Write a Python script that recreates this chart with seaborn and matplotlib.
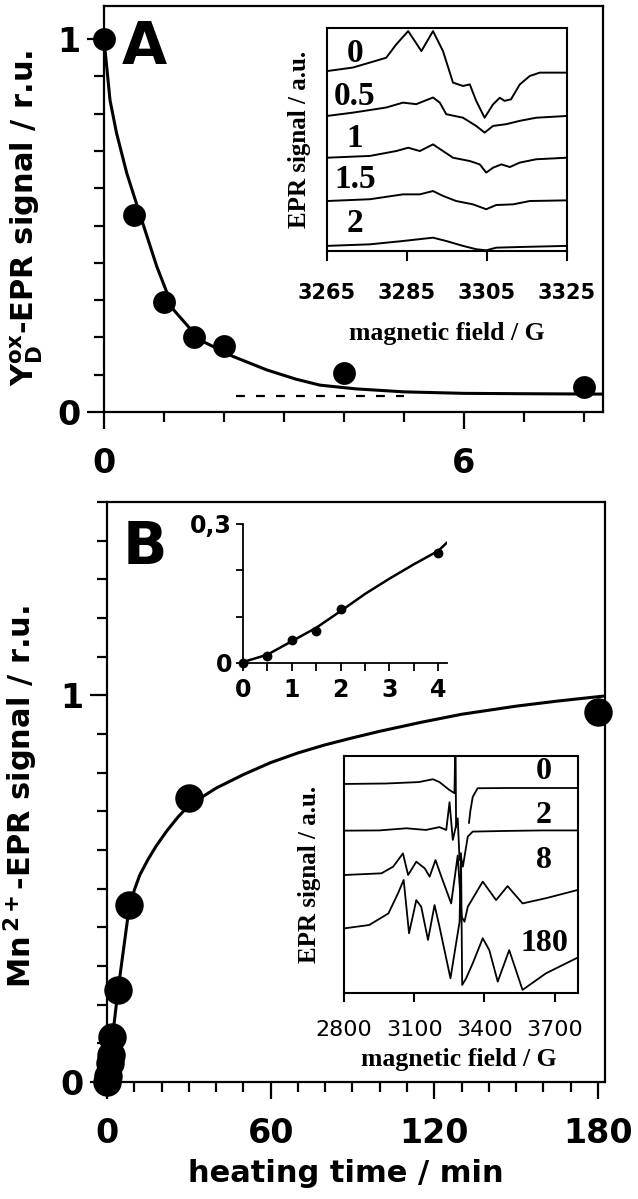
import matplotlib
matplotlib.use("Agg")
import matplotlib.pyplot as plt
import seaborn as sns
from matplotlib.ticker import MultipleLocator, FixedLocator, NullLocator

# ---- panel A : Y_D ox signal vs heating time ----
a_time = [0, 0.5, 1, 1.5, 2, 4, 8]
a_signal = [1.0, 0.528, 0.295, 0.201, 0.177, 0.105, 0.067]
a_fit_time = [0, 0.1, 0.21, 0.38, 0.6, 0.88, 1.16, 1.6, 2.15, 2.71, 3.2, 3.6, 4.2, 5, 6, 7, 8.32]
a_fit_signal = [1.0, 0.836, 0.747, 0.64, 0.529, 0.39, 0.274, 0.193, 0.149, 0.113, 0.088, 0.072, 0.062,
                0.054, 0.05, 0.049, 0.048]
a_base_time = [2.2, 5.0]
a_base_signal = [0.043, 0.043]

# inset A : EPR spectra (field in G, signal in a.u. incl. offset)
ia_labels = ["0", "0.5", "1", "1.5", "2"]
ia_label_pos = [89, 69.5, 50.7, 32, 12.5]
ia_field_0 = [3265, 3271.5, 3279.8, 3282.3, 3285.3, 3288.6, 3291.5, 3294, 3296.5, 3299, 3300.7, 3302.3,
              3304.4, 3306.5, 3308.2, 3309.4, 3311, 3313.2, 3315.7, 3318.2, 3325]
ia_sig_0 = [81, 82.6, 87, 93, 99, 90, 99, 90, 75.8, 74.3, 75, 67.6, 60, 66, 69, 67.6, 68.3, 75, 78.8, 80.3, 80.3]
ia_field_05 = [3265, 3271.5, 3279.8, 3284, 3287.3, 3291.5, 3293.2, 3294.8, 3299, 3302.3, 3304.4, 3306.5,
               3309.8, 3313.2, 3317.3, 3325]
ia_sig_05 = [60.8, 62.3, 64.6, 66.8, 66.1, 69.1, 66.8, 61.6, 60.0, 56.3, 53.3, 56.3, 57.1, 58.6, 60.0, 60.8]
ia_field_1 = [3265, 3275.7, 3282.3, 3285.3, 3288.2, 3291.5, 3294, 3296.5, 3300.7, 3303.2, 3304.8, 3306.5,
              3308.6, 3310.7, 3313.2, 3317.3, 3325]
ia_sig_1 = [42.0, 42.8, 45.0, 46.5, 45.0, 48.0, 45.0, 42.0, 40.5, 39.0, 35.3, 37.5, 39.0, 37.8, 39.8, 41.3, 42.0]
ia_field_15 = [3265, 3275.7, 3284, 3288.2, 3291.5, 3294, 3297.3, 3301.5, 3304.8, 3307.3, 3311.5, 3315.7, 3325]
ia_sig_15 = [22.5, 23.3, 25.5, 25.5, 27.0, 24.8, 22.5, 21.0, 18.8, 20.7, 21.0, 22.5, 22.8]
ia_field_2 = [3265, 3275.7, 3284, 3291.5, 3294.8, 3299, 3302.3, 3304.8, 3307.3, 3313.2, 3325]
ia_sig_2 = [2.3, 3.0, 4.5, 6.0, 4.5, 2.3, 0.8, 0.3, 1.5, 1.8, 2.3]

# ---- panel B : Mn2+ signal vs heating time ----
b_time = [0, 0.5, 1, 1.5, 2, 4, 8, 30, 180]
b_signal = [0, 0.016, 0.05, 0.07, 0.117, 0.238, 0.457, 0.734, 0.956]
b_fit_time = [0, 1, 2, 4, 8, 10, 12, 15, 18, 22, 26, 30, 40, 50, 60, 70, 80, 90, 100, 115, 130, 150,
              165, 182]
b_fit_signal = [0, 0.05, 0.115, 0.235, 0.445, 0.496, 0.535, 0.575, 0.61, 0.65, 0.685, 0.715, 0.76,
                0.795, 0.826, 0.851, 0.872, 0.89, 0.907, 0.93, 0.951, 0.972, 0.985, 0.998]

# inset B1 : first 4 min
ib_time = [0, 0.5, 1, 1.5, 2, 4]
ib_signal = [0, 0.016, 0.05, 0.07, 0.117, 0.238]
ib_fit_time = [0, 0.5, 1, 1.5, 2, 2.5, 3, 3.5, 4, 4.18]
ib_fit_signal = [0.002, 0.018, 0.047, 0.076, 0.112, 0.149, 0.182, 0.213, 0.242, 0.26]

# inset B2 : Mn EPR spectra
ic_labels = ["0", "2", "8", "180"]
ic_label_pos = [93.4, 75.1, 56.1, 21]
ic_field_0a = [2800, 2980, 3120, 3180, 3208, 3250, 3272, 3275, 3277, 3279]
ic_sig_0a = [88.2, 88.4, 89.0, 90.2, 89.0, 85.7, 84.3, 101, 101, 70]
ic_field_0b = [3334, 3340, 3350, 3371, 3500, 3650, 3800]
ic_sig_0b = [71.7, 76.8, 82.7, 86.4, 86.5, 86.5, 86.5]
ic_field_2 = [2800, 2950, 3067, 3150, 3208, 3237, 3251, 3265, 3286, 3294, 3300, 3308, 3329, 3350, 3500, 3650, 3800]
ic_sig_2 = [68.5, 68.6, 69.5, 68.8, 70.0, 68.8, 80.5, 64.6, 73.7, 56.1, 57.4, 53.3, 66.0, 68.1, 68.4, 68.6, 68.6]
ic_field_8 = [2804, 2960, 3010, 3052, 3074, 3109, 3145, 3166, 3191, 3216, 3258, 3286, 3303, 3315, 3329,
              3393, 3450, 3499, 3563, 3663, 3800]
ic_sig_8 = [49.8, 50.5, 53.3, 58.9, 49.8, 55.4, 52.6, 49.1, 56.1, 49.1, 37.8, 58.0, 32.0, 30.1, 36.4,
            47.0, 39.2, 45.1, 37.8, 40.0, 43.5]
ic_field_180 = [2804, 2908, 2990, 3031, 3055, 3078, 3109, 3130, 3159, 3187, 3208, 3255, 3294, 3300, 3305,
                3322, 3350, 3393, 3421, 3457, 3506, 3563, 3663, 3800]
ic_sig_180 = [27.3, 28.7, 33.6, 42.1, 47.7, 25.2, 39.2, 36.4, 22.4, 37.1, 28.0, 6.2, 30.1, 59.0, 3.4,
              6.2, 12.5, 23.1, 18.1, 4.8, 18.1, 1.3, 8.3, 15.0]

sns.set_style("ticks", {"axes.edgecolor": "black", "xtick.color": "black", "ytick.color": "black",
                        "text.color": "black", "axes.labelcolor": "black"})
plt.rcParams["font.family"] = ["DejaVu Sans"]
plt.rcParams["font.weight"] = "bold"
plt.rcParams["axes.labelweight"] = "bold"
plt.rcParams["mathtext.fontset"] = "dejavusans"
plt.rcParams["mathtext.default"] = "bf"

SERIF = ["Liberation Serif", "DejaVu Serif"]
LW = 1.6

fig = plt.figure(figsize=(6.38, 11.99), dpi=100)


def box(ax, lw=LW):
    for s in ax.spines.values():
        s.set_visible(True)
        s.set_linewidth(lw)


def curve(x, y, ax, lw=2.0, **kw):
    sns.lineplot(x=x, y=y, ax=ax, color="black", lw=lw, estimator=None, sort=False, legend=False, **kw)


def dots(x, y, ax, s):
    sns.scatterplot(x=x, y=y, ax=ax, s=s, color="black", edgecolor="black", linewidth=0,
                    clip_on=False, zorder=4, legend=False)


# ================= panel A =================
axA = fig.add_axes([0.16301, 0.65638, 0.78213, 0.33862])
curve(a_fit_time, a_fit_signal, axA, lw=2.2)
curve(a_base_time, a_base_signal, axA, lw=1.6, linestyle=(0, (4, 5)))
dots(a_time, a_signal, axA, 270)
axA.set_xlim(0, 8.317)
axA.set_ylim(0, 1.0885)
axA.xaxis.set_major_locator(FixedLocator([0, 6]))
axA.xaxis.set_minor_locator(MultipleLocator(1))
axA.yaxis.set_major_locator(FixedLocator([0, 1]))
axA.yaxis.set_minor_locator(MultipleLocator(0.1))
box(axA)
axA.tick_params(which="major", direction="out", length=12, width=LW, labelsize=24)
axA.tick_params(axis="x", which="major", pad=13)
axA.tick_params(axis="y", which="major", pad=5)
axA.tick_params(which="minor", direction="out", length=7.5, width=LW)
axA.set_xlabel("")
axA.set_ylabel(r"Y$_{\mathbf{D}}^{\mathbf{ox}}$-EPR signal / r.u.", fontsize=22)
axA.yaxis.set_label_coords(-0.118, 0.478)
axA.text(0.035, 0.968, "A", transform=axA.transAxes, fontsize=42, fontweight="bold", va="top", ha="left")

# inset A
iaA = fig.add_axes([0.51254, 0.79066, 0.37618, 0.18599])
iaA.set_facecolor("white")
for fx, sy in [(ia_field_0, ia_sig_0), (ia_field_05, ia_sig_05), (ia_field_1, ia_sig_1),
               (ia_field_15, ia_sig_15), (ia_field_2, ia_sig_2)]:
    curve(fx, sy, iaA, lw=1.4)
for lab, yp in zip(ia_labels, ia_label_pos):
    iaA.text(3272, yp, lab, family=SERIF, fontsize=24, fontweight="bold", ha="center", va="center")
iaA.set_xlim(3265, 3325)
iaA.set_ylim(0, 100.4)
iaA.xaxis.set_major_locator(FixedLocator([3265, 3285, 3305, 3325]))
iaA.yaxis.set_major_locator(NullLocator())
box(iaA, 1.5)
iaA.tick_params(axis="x", direction="out", length=7, width=1.5, pad=16, labelsize=15)
iaA.set_xlabel("magnetic field / G", family=SERIF, fontsize=18.5, fontweight="bold")
iaA.xaxis.set_label_coords(0.5, -0.32)
iaA.set_ylabel("EPR signal / a.u.", family=SERIF, fontsize=18, fontweight="bold")
iaA.yaxis.set_label_coords(-0.065, 0.5)

# ================= panel B =================
axB = fig.add_axes([0.16771, 0.09758, 0.78056, 0.48374])
curve(b_fit_time, b_fit_signal, axB, lw=2.2)
dots(b_time, b_signal, axB, 420)
axB.set_xlim(0, 182.6)
axB.set_ylim(0, 1.5)
axB.xaxis.set_major_locator(MultipleLocator(60))
axB.xaxis.set_minor_locator(MultipleLocator(10))
axB.yaxis.set_major_locator(FixedLocator([0, 1]))
axB.yaxis.set_minor_locator(MultipleLocator(0.1))
box(axB)
axB.tick_params(which="major", direction="out", length=12, width=LW, labelsize=24)
axB.tick_params(axis="x", which="major", pad=13)
axB.tick_params(axis="y", which="major", pad=5)
axB.tick_params(which="minor", direction="out", length=7.5, width=LW)
axB.set_xlabel("heating time / min", fontsize=22)
axB.xaxis.set_label_coords(0.48, -0.132)
axB.set_ylabel(r"Mn$^{\,\mathbf{2+}}$-EPR signal / r.u.", fontsize=22)
axB.yaxis.set_label_coords(-0.135, 0.493)
axB.text(0.032, 0.97, "B", transform=axB.transAxes, fontsize=42, fontweight="bold", va="top", ha="left")

# inset B1
ibB = fig.add_axes([0.38088, 0.44704, 0.31975, 0.11593])
ibB.set_facecolor("none")
curve(ib_fit_time, ib_fit_signal, ibB, lw=1.8)
dots(ib_time, ib_signal, ibB, 50)
ibB.set_xlim(0, 4.18)
ibB.set_ylim(0, 0.3)
ibB.xaxis.set_major_locator(MultipleLocator(1))
ibB.xaxis.set_minor_locator(MultipleLocator(0.5))
ibB.yaxis.set_major_locator(FixedLocator([0, 0.3]))
ibB.yaxis.set_minor_locator(FixedLocator([0.1, 0.2]))
ibB.set_yticklabels(["0", "0,3"])
for s in ["top", "right"]:
    ibB.spines[s].set_visible(False)
for s in ["left", "bottom"]:
    ibB.spines[s].set_linewidth(1.3)
ibB.tick_params(which="both", direction="out", width=1.3, labelsize=17)
ibB.tick_params(axis="x", which="both", length=6, pad=5)
ibB.tick_params(axis="y", which="both", length=5, pad=3)
ibB.set_xlabel("")
ibB.set_ylabel("")

# inset B2
icB = fig.add_axes([0.53918, 0.17181, 0.36677, 0.19766])
icB.set_facecolor("white")
for fx, sy in [(ic_field_0a, ic_sig_0a), (ic_field_0b, ic_sig_0b), (ic_field_2, ic_sig_2),
               (ic_field_8, ic_sig_8), (ic_field_180, ic_sig_180)]:
    curve(fx, sy, icB, lw=1.3)
for lab, yp in zip(ic_labels, ic_label_pos):
    icB.text(3655, yp, lab, family=SERIF, fontsize=23, fontweight="bold", ha="center", va="center")
icB.set_xlim(2800, 3800)
icB.set_ylim(0, 100)
icB.xaxis.set_major_locator(FixedLocator([2800, 3100, 3400, 3700]))
icB.yaxis.set_major_locator(NullLocator())
box(icB, 1.5)
icB.tick_params(axis="x", direction="out", length=6.5, width=1.5, pad=13, labelsize=16)
for t in icB.get_xticklabels():
    t.set_fontweight("normal")
icB.set_xlabel("magnetic field / G", family=SERIF, fontsize=18.5, fontweight="bold")
icB.xaxis.set_label_coords(0.49, -0.23)
icB.set_ylabel("EPR signal / a.u.", family=SERIF, fontsize=18, fontweight="bold")
icB.yaxis.set_label_coords(-0.1, 0.5)

fig.savefig("out.png", dpi=100)
